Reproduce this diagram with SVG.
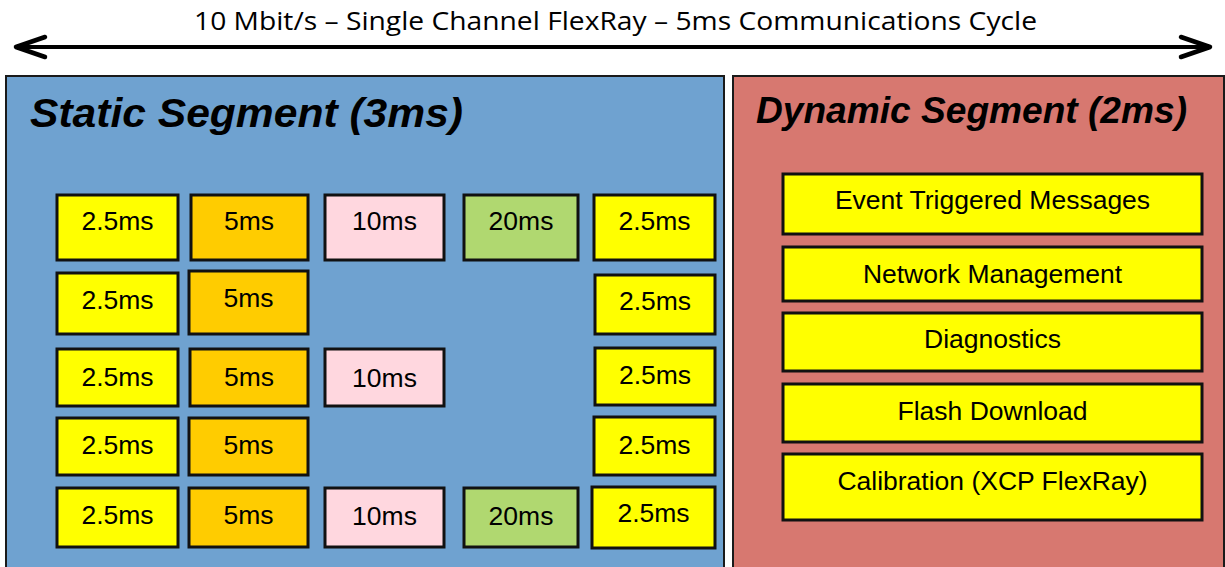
<svg xmlns="http://www.w3.org/2000/svg" width="1225" height="567" viewBox="0 0 1225 567">
<style>
.panel{stroke:#1a1a1a;stroke-width:2}
.box{stroke:#111;stroke-width:3}
.y{fill:#ffff00}
.o{fill:#ffcc00}
.p{fill:#ffd7df}
.g{fill:#b0d870}
.t{font-family:"Liberation Sans",Arial,sans-serif;font-size:26.5px;fill:#000;text-anchor:middle}
.h{font-family:"Liberation Sans",Arial,sans-serif;font-weight:bold;font-style:italic;fill:#000}
.top{font-family:"Open Sans","Liberation Sans",sans-serif;font-size:25.5px;fill:#000}
</style>
<rect width="1225" height="567" fill="#fff"/>
<g id="connectors">
<line x1="16" y1="47" x2="1210" y2="47" stroke="#000" stroke-width="4"/>
<polyline points="45,37 16,47 45,57" fill="none" stroke="#000" stroke-width="4.5" stroke-linecap="round" stroke-linejoin="round"/>
<polyline points="1181,37 1210,47 1181,57" fill="none" stroke="#000" stroke-width="4.5" stroke-linecap="round" stroke-linejoin="round"/>
</g>
<g id="title"><text class="top" x="194" y="30" textLength="843" lengthAdjust="spacingAndGlyphs">10 Mbit/s – Single Channel FlexRay – 5ms Communications Cycle</text></g>
<g id="static">
<rect class="panel" x="6" y="76" width="718" height="500" fill="#6fa2d0"/>
<text class="h" x="30" y="127" font-size="40" textLength="433" lengthAdjust="spacingAndGlyphs">Static Segment (3ms)</text>
</g>
<g id="dynamic">
<rect class="panel" x="733" y="76" width="491" height="500" fill="#d77870"/>
<text class="h" x="756" y="123" font-size="37" textLength="431" lengthAdjust="spacingAndGlyphs">Dynamic Segment (2ms)</text>
</g>
<g id="r1c1"><rect class="box y" x="57" y="195" width="121" height="65"/><text class="t" x="117.5" y="230">2.5ms</text></g>
<g id="r1c2"><rect class="box o" x="191" y="195" width="117" height="65"/><text class="t" x="249" y="230">5ms</text></g>
<g id="r1c3"><rect class="box p" x="325" y="195" width="119" height="65"/><text class="t" x="384.5" y="230">10ms</text></g>
<g id="r1c4"><rect class="box g" x="464" y="195" width="114" height="65"/><text class="t" x="521" y="230">20ms</text></g>
<g id="r1c5"><rect class="box y" x="594" y="195" width="121" height="65"/><text class="t" x="654.5" y="230">2.5ms</text></g>
<g id="r2c1"><rect class="box y" x="57" y="273" width="121" height="61"/><text class="t" x="117.5" y="309">2.5ms</text></g>
<g id="r2c2"><rect class="box o" x="189" y="271" width="119" height="63"/><text class="t" x="248.5" y="307">5ms</text></g>
<g id="r2c5"><rect class="box y" x="595" y="275" width="120" height="59"/><text class="t" x="655" y="310">2.5ms</text></g>
<g id="r3c1"><rect class="box y" x="57" y="349" width="121" height="57"/><text class="t" x="117.5" y="386">2.5ms</text></g>
<g id="r3c2"><rect class="box o" x="190" y="349" width="118" height="57"/><text class="t" x="249" y="386">5ms</text></g>
<g id="r3c3"><rect class="box p" x="325" y="349" width="119" height="57"/><text class="t" x="384.5" y="387">10ms</text></g>
<g id="r3c5"><rect class="box y" x="595" y="348" width="120" height="57"/><text class="t" x="655" y="384">2.5ms</text></g>
<g id="r4c1"><rect class="box y" x="57" y="418" width="121" height="57"/><text class="t" x="117.5" y="454">2.5ms</text></g>
<g id="r4c2"><rect class="box o" x="189" y="418" width="119" height="57"/><text class="t" x="248.5" y="454">5ms</text></g>
<g id="r4c5"><rect class="box y" x="594" y="417" width="121" height="58"/><text class="t" x="654.5" y="454">2.5ms</text></g>
<g id="r5c1"><rect class="box y" x="57" y="488" width="121" height="59"/><text class="t" x="117.5" y="524">2.5ms</text></g>
<g id="r5c2"><rect class="box o" x="189" y="488" width="119" height="59"/><text class="t" x="248.5" y="524">5ms</text></g>
<g id="r5c3"><rect class="box p" x="325" y="488" width="119" height="59"/><text class="t" x="384.5" y="525">10ms</text></g>
<g id="r5c4"><rect class="box g" x="464" y="488" width="114" height="59"/><text class="t" x="521" y="525">20ms</text></g>
<g id="r5c5"><rect class="box y" x="592" y="487" width="123" height="61"/><text class="t" x="653.5" y="522">2.5ms</text></g>
<g id="d1"><rect class="box y" x="783" y="174" width="419" height="60"/><text class="t" x="992.5" y="209">Event Triggered Messages</text></g>
<g id="d2"><rect class="box y" x="783" y="247" width="419" height="54"/><text class="t" x="992.5" y="283">Network Management</text></g>
<g id="d3"><rect class="box y" x="783" y="313" width="419" height="58"/><text class="t" x="992.5" y="348">Diagnostics</text></g>
<g id="d4"><rect class="box y" x="783" y="384" width="419" height="58"/><text class="t" x="992.5" y="420">Flash Download</text></g>
<g id="d5"><rect class="box y" x="783" y="454" width="419" height="66"/><text class="t" x="992.5" y="490">Calibration (XCP FlexRay)</text></g>
</svg>
